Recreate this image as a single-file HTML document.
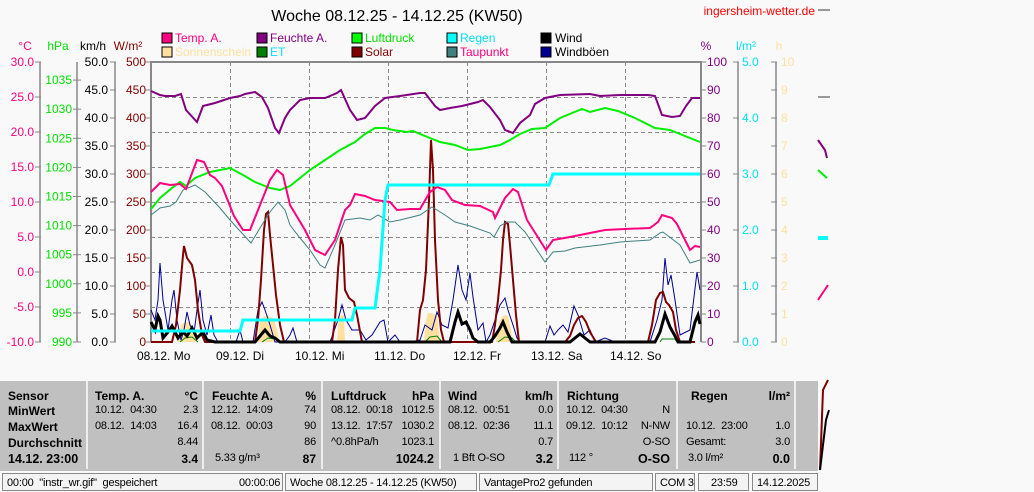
<!DOCTYPE html>
<html><head><meta charset="utf-8"><style>
body{margin:0;width:1034px;height:492px;background:#f9f9f9;overflow:hidden;font-family:"Liberation Sans",sans-serif;position:relative}
svg{position:absolute;left:0;top:0}
svg text{font-family:"Liberation Sans",sans-serif;font-size:12px}
.tbl{position:absolute;left:0;top:381px;width:818px;height:90px;background:#c0c0c0;font-size:11px;letter-spacing:-0.2px;color:#000}
.c{position:absolute;top:0;height:88px;border-right:2px solid #eee}
.r{position:absolute;white-space:pre}
.v{position:absolute;white-space:nowrap;text-align:right}
.b{font-weight:bold;font-size:12px;letter-spacing:0}
.sb{position:absolute;top:473px;height:18px;background:#f4f4f4;border:1px solid #888;font-size:11px;letter-spacing:-0.2px;line-height:18px;white-space:pre;padding-left:4px;box-sizing:border-box}
</style></head><body>
<svg width="1034" height="492" viewBox="0 0 1034 492">
<text x="397" y="21" text-anchor="middle" style="font-size:16px">Woche 08.12.25 - 14.12.25 (KW50)</text>
<text x="815" y="15" text-anchor="end" fill="#f00" style="font-size:12px">ingersheim-wetter.de</text>
<g style="font-size:12px">
<rect x="162" y="33" width="10" height="10" fill="#ff0080" stroke="#000"/><text x="175" y="42" fill="#ff0080">Temp. A.</text>
<rect x="162" y="47" width="10" height="10" fill="#ffe0a0" stroke="#000"/><text x="175" y="56" fill="#ffe0a0">Sonnenschein</text>
<rect x="257" y="33" width="10" height="10" fill="#800080" stroke="#000"/><text x="270" y="42" fill="#800080">Feuchte A.</text>
<rect x="257" y="47" width="10" height="10" fill="#008000" stroke="#000"/><text x="270" y="56" fill="#00e0ff">ET</text>
<rect x="352" y="33" width="10" height="10" fill="#00ff00" stroke="#000"/><text x="365" y="42" fill="#00e000">Luftdruck</text>
<rect x="352" y="47" width="10" height="10" fill="#800000" stroke="#000"/><text x="365" y="56" fill="#800000">Solar</text>
<rect x="447" y="33" width="10" height="10" fill="#00ffff" stroke="#000"/><text x="460" y="42" fill="#00e0ff">Regen</text>
<rect x="447" y="47" width="10" height="10" fill="#408080" stroke="#000"/><text x="460" y="56" fill="#ff0080">Taupunkt</text>
<rect x="541" y="33" width="10" height="10" fill="#000" stroke="#000"/><text x="555" y="42">Wind</text>
<rect x="541" y="47" width="10" height="10" fill="#000090" stroke="#000"/><text x="555" y="56">Windböen</text>
</g>
<text x="25" y="50" text-anchor="middle" fill="#ff0080">°C</text>
<text x="58" y="50" text-anchor="middle" fill="#00e000">hPa</text>
<text x="93" y="50" text-anchor="middle">km/h</text>
<text x="128" y="50" text-anchor="middle" fill="#800000">W/m²</text>
<text x="706" y="50" text-anchor="middle" fill="#800080">%</text>
<text x="746" y="50" text-anchor="middle" fill="#00e0ff">l/m²</text>
<text x="779" y="50" text-anchor="middle" fill="#ffe0a0">h</text>
<g stroke="#888" stroke-dasharray="4,3" stroke-width="1">
<line x1="151" y1="97.5" x2="700" y2="97.5"/><line x1="151" y1="132.5" x2="700" y2="132.5"/><line x1="151" y1="167.5" x2="700" y2="167.5"/><line x1="151" y1="202.5" x2="700" y2="202.5"/><line x1="151" y1="237.5" x2="700" y2="237.5"/><line x1="151" y1="272.5" x2="700" y2="272.5"/><line x1="151" y1="307.5" x2="700" y2="307.5"/>
<line x1="230.5" y1="62" x2="230.5" y2="342"/><line x1="309.5" y1="62" x2="309.5" y2="342"/><line x1="388.5" y1="62" x2="388.5" y2="342"/><line x1="467.5" y1="62" x2="467.5" y2="342"/><line x1="546.5" y1="62" x2="546.5" y2="342"/><line x1="625.5" y1="62" x2="625.5" y2="342"/>
</g>
<g stroke="#888" stroke-width="2" fill="none">
<polyline points="151,342 151,62 701,62 701,342"/>
</g>
<g stroke="#888" stroke-width="1.5">
<line x1="40" y1="62" x2="40" y2="342"/><line x1="77" y1="62" x2="77" y2="342"/><line x1="115" y1="62" x2="115" y2="342"/>
<line x1="738" y1="62" x2="738" y2="342"/><line x1="776" y1="62" x2="776" y2="342"/>
</g>
<g id="ticks" stroke="#888" stroke-width="1"></g>
<g id="labels"></g>
<g fill="#ffe0a0">
<polygon points="178,342 181,325 185,322 190,322 194,330 198,342"/>
<polygon points="258,342 260,320 265,316 270,317 274,318 277,330 279,342"/>
<polygon points="337,342 339,316 344,315 345,342"/>
<polygon points="424,342 426,320 428,313 432,313 437,316 440,342"/>
<polygon points="496,342 499,322 504,315 508,316 511,330 512,342"/>
</g>
<g stroke="#008000" fill="none" stroke-width="1">
<polyline points="180,342 185,338 192,337 198,342"/>
<polyline points="262,342 268,338 275,339 280,342"/>
<polyline points="425,342 430,337 437,336 442,342"/>
<polyline points="498,342 505,337 512,338 516,342"/>
<polyline points="660,342 662,339 675,339 677,342"/>
</g>
<polyline fill="none" stroke="#000090" stroke-width="1" points="151,310 155,320 158,300 160,263 163,300 168,330 172,300 174,290 177,320 181,340 184,330 187,312 190,325 194,333 197,310 200,290 203,320 207,335 211,315 214,335 218,342 236,342 240,330 243,342 253,342 258,310 262,302 265,310 270,325 275,342 285,342 290,335 293,328 297,342 330,342 338,320 342,305 346,320 352,330 360,330 366,340 372,335 380,322 384,320 388,342 395,335 400,342 410,342 420,340 425,325 432,330 437,312 442,325 448,328 453,300 458,265 462,290 466,300 470,273 473,297 478,330 483,323 486,342 490,335 495,320 500,305 505,298 508,310 513,325 517,338 520,342 545,342 550,326 554,335 558,330 563,325 568,332 574,306 578,315 584,335 590,330 595,342 605,338 615,342 650,342 657,320 662,300 665,258 668,285 671,275 675,300 680,335 690,330 697,272 700,290"/>
<polyline fill="none" stroke="#800000" stroke-width="2" points="151,342 172,342 176,325 180,290 183,255 184,246 187,258 192,265 195,280 198,310 202,335 205,342 255,342 258,320 261,280 264,230 266,214 268,212 270,235 273,265 276,295 280,325 284,342 332,342 335,320 338,270 341,237 343,245 345,290 349,298 354,302 357,315 362,342 417,342 420,310 423,300 426,270 429,200 431,140 433,170 435,240 438,300 441,330 444,342 492,342 495,325 498,300 501,270 503,240 505,222 508,224 510,245 513,280 516,315 519,342 565,342 570,336 574,325 578,318 582,316 586,322 590,332 596,342 648,342 652,325 656,300 660,293 663,292 666,302 669,305 673,312 676,330 680,342 695,342"/>
<polyline fill="none" stroke="#000" stroke-width="3" points="151,322 155,330 158,316 160,320 163,338 168,332 172,326 178,338 183,332 187,336 192,328 197,338 203,332 207,340 215,342 255,342 260,336 265,330 270,336 275,338 280,342 450,342 455,322 458,312 462,324 466,322 470,330 473,338 478,342 490,342 495,336 500,328 503,322 507,332 512,342 560,342 570,342 575,338 580,334 585,338 590,342 655,342 660,332 665,314 670,327 675,336 678,342 690,342 695,322 698,315 700,324"/>
<polyline fill="none" stroke="#408080" stroke-width="1" points="151,215 160,208 170,206 176,202 183,190 195,185 205,192 220,208 230,220 240,231 251,243 260,228 270,212 278,202 285,210 290,225 300,238 310,250 320,265 325,268 335,245 345,220 360,218 370,220 378,215 390,222 400,220 420,215 432,207 445,215 455,222 470,226 490,233 494,237 500,226 507,222 515,222 525,232 545,262 553,252 565,251 575,248 600,245 620,242 650,240 660,233 663,232 680,245 690,263 700,260"/>
<polyline fill="none" stroke="#800080" stroke-width="2" points="151,91 160,95 165,96 175,96 181,94 186,110 197,122 203,106 215,103 230,98 240,96 245,94 255,92 262,97 268,108 275,128 279,133 285,118 290,110 300,100 310,98 325,98 330,96 337,93 341,90 350,110 357,120 365,118 375,106 385,98 400,96 420,93 425,93 435,106 440,110 450,108 462,106 470,104 478,102 483,100 490,107 500,120 505,130 513,133 520,123 530,115 535,104 545,98 560,95 590,94 600,96 620,95 648,95 655,96 662,115 672,117 680,116 686,106 692,98 700,98"/>
<polyline fill="none" stroke="#00ee00" stroke-width="2" points="151,209 160,198 172,188 180,182 186,186 195,178 210,172 230,168 243,175 255,182 270,188 280,190 290,186 310,170 325,160 340,150 355,142 365,134 375,128 385,128 393,130 407,132 413,131 420,134 430,138 440,142 455,145 468,150 480,149 495,146 500,145 510,140 520,134 532,129 545,128 560,118 582,109 590,112 605,108 618,111 635,118 655,128 670,130 685,136 700,142"/>
<polyline fill="none" stroke="#ff0080" stroke-width="2" points="151,192 160,183 170,185 180,184 186,189 197,160 204,162 210,175 215,178 222,186 234,216 243,230 250,230 260,205 270,180 277,170 283,175 290,205 305,230 315,250 325,255 335,240 345,210 350,205 355,194 365,196 375,200 390,202 397,210 410,209 420,209 430,192 437,187 445,190 452,200 465,205 480,206 493,212 495,218 505,198 513,189 518,192 527,220 546,250 553,240 570,237 580,235 605,230 625,229 650,228 658,222 662,215 672,218 677,224 690,250 695,246 700,247"/>
<polyline fill="none" stroke="#00ffff" stroke-width="3" points="151,331 240,331 243,320 352,320 355,308 375,308 380,270 385,200 388,185 549,185 553,174 700,174"/>
<g font-size="12">
<text x="137" y="360">08.12.  Mo</text><text x="216" y="360">09.12.  Di</text><text x="295" y="360">10.12.  Mi</text><text x="374" y="360">11.12.  Do</text><text x="453" y="360">12.12.  Fr</text><text x="531" y="360">13.12.  Sa</text><text x="610" y="360">14.12.  So</text>
</g>
<g stroke="#999" stroke-width="2"><line x1="818" y1="10" x2="830" y2="10"/><line x1="818" y1="97" x2="830" y2="97"/></g>
<polyline points="818,140 825,150 827,158" fill="none" stroke="#800080" stroke-width="2"/>
<polyline points="818,170 827,178" fill="none" stroke="#00ee00" stroke-width="2"/>
<rect x="818" y="236" width="10" height="4" fill="#00ffff"/>
<polyline points="818,300 828,285" fill="none" stroke="#ff0080" stroke-width="2"/>
<polyline points="820,470 823,390 828,380" fill="none" stroke="#800000" stroke-width="2"/>
<polyline points="820,470 826,420 829,410" fill="none" stroke="#000" stroke-width="2"/>
</svg>
<script>
(function(){
var ns="http://www.w3.org/2000/svg",t=document.getElementById('ticks'),l=document.getElementById('labels');
function tk(x1,y,x2){var e=document.createElementNS(ns,'line');e.setAttribute('x1',x1);e.setAttribute('x2',x2);e.setAttribute('y1',y);e.setAttribute('y2',y);t.appendChild(e);}
function lb(x,y,s,c,a){var e=document.createElementNS(ns,'text');e.setAttribute('x',x);e.setAttribute('y',y+4);e.setAttribute('fill',c);e.setAttribute('text-anchor',a);e.textContent=s;l.appendChild(e);}
for(var i=0;i<=8;i++){var y=342-35*i;
 tk(35,y,41);lb(34,y,(-10+5*i).toFixed(1),'#ff0080','end');}
for(var i=0;i<=10;i++){var y=342-28*i;
 tk(110,y,116);lb(108,y,(5*i).toFixed(1),'#000','end');
 tk(146,y,151);lb(146,y,String(50*i),'#800000','end');
 tk(701,y,706);lb(707,y,String(10*i),'#800080','start');
 tk(771,y,777);lb(781,y,String(i),'#ffe0a0','start');}
for(var i=0;i<=5;i++){var y=342-56*i;tk(733,y,739);lb(742,y,i.toFixed(1),'#00e0ff','start');}
for(var i=0;i<=9;i++){var y=342-29.1*i;tk(73,y,81);lb(72,y,String(990+5*i),'#00e000','end');}
})();
</script>
<div class="tbl">
<div class="c" style="left:0;width:86px"></div><div class="c" style="left:88px;width:114px"></div><div class="c" style="left:204px;width:117px"></div><div class="c" style="left:323px;width:116px"></div><div class="c" style="left:441px;width:116px"></div><div class="c" style="left:559px;width:117px"></div><div class="c" style="left:678px;width:116px"></div>
<div class="r b" style="left:8px;top:8px">Sensor</div><div class="r b" style="left:8px;top:23px">MinWert</div><div class="r b" style="left:8px;top:39px">MaxWert</div><div class="r b" style="left:8px;top:55px">Durchschnitt</div><div class="r b" style="left:8px;top:71px;font-size:12.5px">14.12. 23:00</div>
<div class="r b" style="left:95px;top:8px">Temp. A.</div><div class="v b" style="right:620px;top:8px">°C</div>
<div class="r" style="left:95px;top:23px">10.12.  04:30</div><div class="v" style="right:620px;top:23px">2.3</div>
<div class="r" style="left:95px;top:39px">08.12.  14:03</div><div class="v" style="right:620px;top:39px">16.4</div>
<div class="v" style="right:620px;top:55px">8.44</div><div class="v b" style="right:620px;top:71px">3.4</div>
<div class="r b" style="left:212px;top:8px">Feuchte A.</div><div class="v b" style="right:502px;top:8px">%</div>
<div class="r" style="left:211px;top:23px">12.12.  14:09</div><div class="v" style="right:502px;top:23px">74</div>
<div class="r" style="left:211px;top:39px">08.12.  00:03</div><div class="v" style="right:502px;top:39px">90</div>
<div class="v" style="right:502px;top:55px">86</div><div class="r" style="left:215px;top:71px">5.33 g/m³</div><div class="v b" style="right:502px;top:71px">87</div>
<div class="r b" style="left:331px;top:8px">Luftdruck</div><div class="v b" style="right:384px;top:8px">hPa</div>
<div class="r" style="left:331px;top:23px">08.12.  00:18</div><div class="v" style="right:384px;top:23px">1012.5</div>
<div class="r" style="left:331px;top:39px">13.12.  17:57</div><div class="v" style="right:384px;top:39px">1030.2</div>
<div class="r" style="left:331px;top:55px">^0.8hPa/h</div><div class="v" style="right:384px;top:55px">1023.1</div><div class="v b" style="right:384px;top:71px;font-size:12.5px">1024.2</div>
<div class="r b" style="left:448px;top:8px">Wind</div><div class="v b" style="right:265px;top:8px">km/h</div>
<div class="r" style="left:448px;top:23px">08.12.  00:51</div><div class="v" style="right:265px;top:23px">0.0</div>
<div class="r" style="left:448px;top:39px">08.12.  02:36</div><div class="v" style="right:265px;top:39px">11.1</div>
<div class="v" style="right:265px;top:55px">0.7</div><div class="r" style="left:453px;top:71px">1 Bft O-SO</div><div class="v b" style="right:265px;top:71px;font-size:12.5px">3.2</div>
<div class="r b" style="left:567px;top:8px">Richtung</div>
<div class="r" style="left:566px;top:23px">10.12.  04:30</div><div class="v" style="right:148px;top:23px">N</div>
<div class="r" style="left:566px;top:39px">09.12.  10:12</div><div class="v" style="right:148px;top:39px">N-NW</div>
<div class="v" style="right:148px;top:55px">O-SO</div><div class="r" style="left:569px;top:71px">112 °</div><div class="v b" style="right:148px;top:71px;font-size:12.5px">O-SO</div>
<div class="r b" style="left:691px;top:8px">Regen</div><div class="v b" style="right:28px;top:8px">l/m²</div>
<div class="r" style="left:686px;top:39px">10.12.  23:00</div><div class="v" style="right:28px;top:39px">1.0</div>
<div class="r" style="left:686px;top:55px">Gesamt:</div><div class="v" style="right:28px;top:55px">3.0</div>
<div class="r" style="left:688px;top:71px">3.0 l/m²</div><div class="v b" style="right:28px;top:71px;font-size:12.5px">0.0</div>
</div>
<div class="sb" style="left:2px;width:281px">00:00  "instr_wr.gif"  gespeichert<span style="position:absolute;left:236px">00:00:06</span></div>
<div class="sb" style="left:285px;width:192px">Woche 08.12.25 - 14.12.25 (KW50)</div>
<div class="sb" style="left:479px;width:174px">VantagePro2 gefunden</div>
<div class="sb" style="left:655px;width:40px">COM 3</div>
<div class="sb" style="left:698px;width:51px;padding-left:12px">23:59</div>
<div class="sb" style="left:752px;width:66px">14.12.2025</div>
</body></html>
